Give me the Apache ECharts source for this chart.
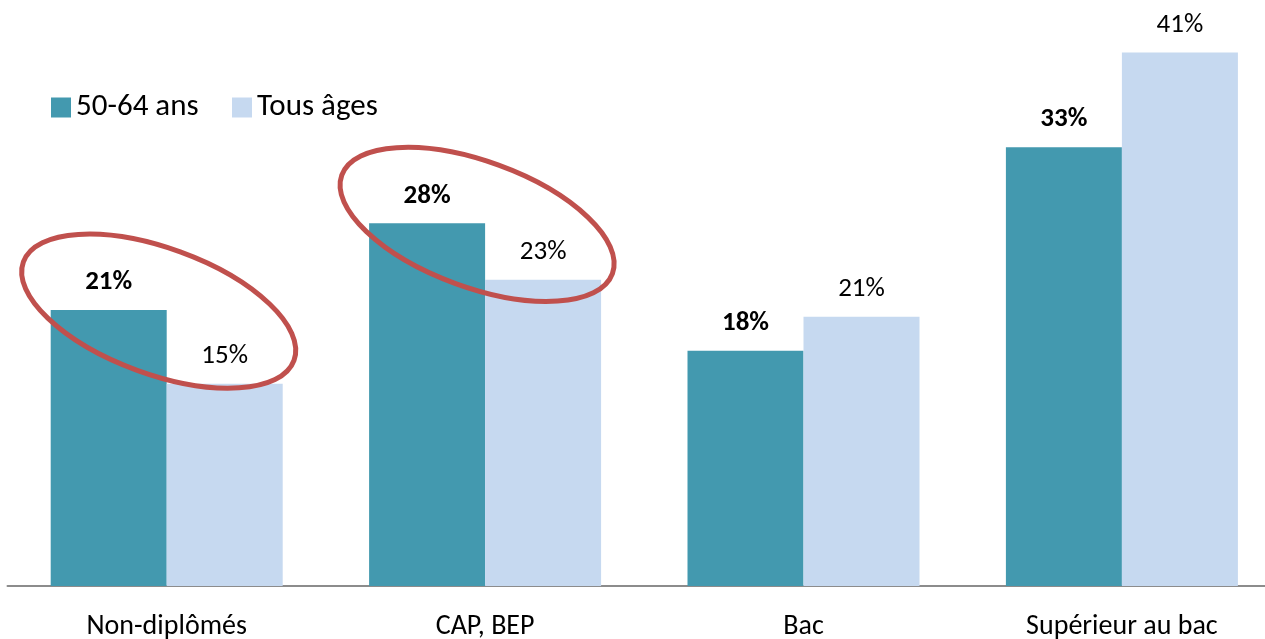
<!DOCTYPE html>
<html>
<head>
<meta charset="utf-8">
<script src="https://cdn.jsdelivr.net/npm/echarts@6/dist/echarts.min.js"></script>
<style>
html,body{margin:0;padding:0;background:#fff;}
#c{width:1265px;height:639px;}
</style>
</head>
<body>
<div id="c"></div>
<script>
const categories = ['Non-diplômés', 'CAP, BEP', 'Bac', 'Supérieur au bac'];
const seriesNames = ['50-64 ans', 'Tous âges'];
const age5064 = [21.0, 27.6, 17.9, 33.4];
const tousAges = [15.4, 23.3, 20.5, 40.6];
const circledCategories = [0, 1];

const FONT = 'Carlito, Lato, sans-serif';
const chart = echarts.init(document.getElementById('c'));
const fmt = p => Math.round(p.value) + '%';

chart.setOption({
  animation: false,
  backgroundColor: '#ffffff',
  grid: { left: 7.5, width: 1273.6, top: 10, height: 576, outerBoundsMode: 'none', containLabel: false },
  legend: [
    { data: [seriesNames[0]], left: 46, top: 87, itemWidth: 20, itemHeight: 20, itemGap: 5,
      icon: 'rect', textStyle: { fontFamily: FONT, fontSize: 31, color: '#000' } },
    { data: [seriesNames[1]], left: 227, top: 87, itemWidth: 20, itemHeight: 20, itemGap: 5,
      icon: 'rect', textStyle: { fontFamily: FONT, fontSize: 31, color: '#000' } }
  ],
  xAxis: {
    type: 'category',
    data: categories,
    axisLine: { lineStyle: { color: '#8c8c8c', width: 2 } },
    axisTick: { show: false },
    axisLabel: { fontFamily: FONT, fontSize: 28, color: '#000', margin: 27, interval: 0 }
  },
  yAxis: { type: 'value', min: 0, max: 43.84, show: false, splitLine: { show: false } },
  series: [
    { name: seriesNames[0], type: 'bar', data: age5064, barWidth: 116, barGap: '0%',
      itemStyle: { color: '#4399AF' },
      label: { show: true, position: 'top', distance: 14, formatter: fmt,
        fontFamily: FONT, fontSize: 27, fontWeight: 'bold', color: '#000' } },
    { name: seriesNames[1], type: 'bar', data: tousAges, barWidth: 116,
      itemStyle: { color: '#C6D9F0' },
      label: { show: true, position: 'top', distance: 14, formatter: fmt,
        fontFamily: FONT, fontSize: 27, color: '#000' } }
  ]
});

const ellipses = circledCategories.map(i => {
  const p = chart.convertToPixel({ xAxisIndex: 0, yAxisIndex: 0 }, [i, age5064[i]]);
  return {
    type: 'ellipse', x: p[0] - 8, y: p[1] + 1, rotation: -20 * Math.PI / 180,
    shape: { cx: 0, cy: 0, rx: 144, ry: 63 },
    style: { fill: 'none', stroke: '#C0504D', lineWidth: 5 }, z: 100
  };
});
chart.setOption({ graphic: ellipses });
</script>
</body>
</html>
